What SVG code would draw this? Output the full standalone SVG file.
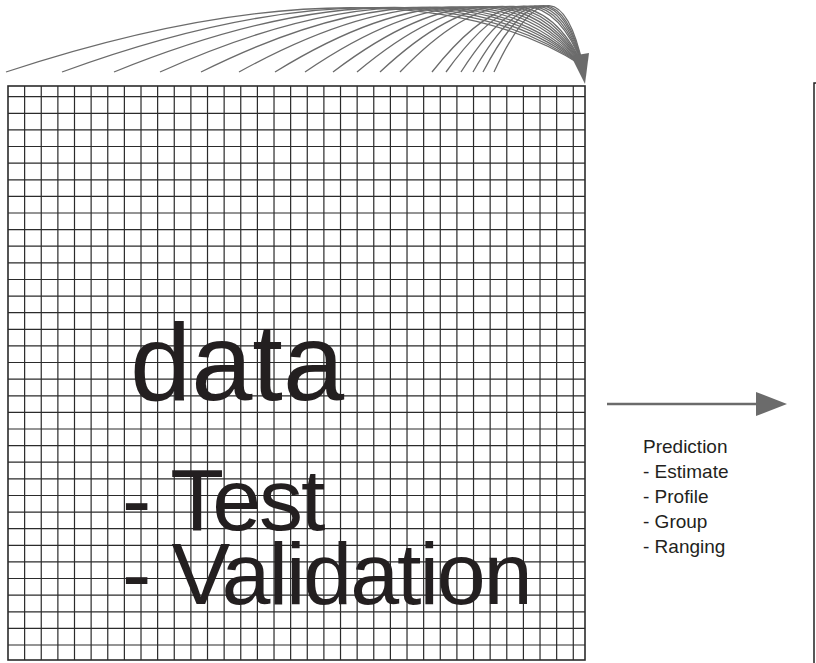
<svg xmlns="http://www.w3.org/2000/svg" width="816" height="663" viewBox="0 0 816 663">
<style>
.grid{fill:none;stroke:#2b2b2b;stroke-width:1.2}
.border{fill:none;stroke:#2b2b2b;stroke-width:1.6}
.arc{fill:none;stroke:#6b6b6b;stroke-width:1.3}
.big{font-family:"Liberation Sans",Arial,sans-serif;fill:#231f20}
.small{font-family:"Liberation Sans",Arial,sans-serif;font-size:19px;fill:#231f20}
</style>
<rect width="816" height="663" fill="#ffffff"/>
<g id="grid-node">
<path class="grid" d="M24.63 86V660M41.25 86V660M57.88 86V660M74.5 86V660M91.13 86V660M107.76 86V660M124.38 86V660M141.01 86V660M157.63 86V660M174.26 86V660M190.89 86V660M207.51 86V660M224.14 86V660M240.76 86V660M257.39 86V660M274.02 86V660M290.64 86V660M307.27 86V660M323.89 86V660M340.52 86V660M357.15 86V660M373.77 86V660M390.4 86V660M407.02 86V660M423.65 86V660M440.28 86V660M456.9 86V660M473.53 86V660M490.15 86V660M506.78 86V660M523.41 86V660M540.03 86V660M556.66 86V660M573.28 86V660
M8 96.7H585M8 113.3H585M8 129.9H585M8 146.5H585M8 163.2H585M8 179.8H585M8 196.4H585M8 213H585M8 229.6H585M8 246.2H585M8 262.9H585M8 279.5H585M8 296.1H585M8 312.7H585M8 329.3H585M8 345.9H585M8 362.5H585M8 379.2H585M8 395.8H585M8 412.4H585M8 429H585M8 445.6H585M8 462.2H585M8 478.8H585M8 495.5H585M8 512.1H585M8 528.7H585M8 545.3H585M8 561.9H585M8 578.5H585M8 595.2H585M8 611.8H585M8 628.4H585M8 645H585"/>
<rect class="border" x="8" y="86" width="577" height="574"/>
<text class="big" x="130" y="400" font-size="110">data</text>
<text class="big" x="122" y="530" font-size="88" letter-spacing="-2">- Test</text>
<text class="big" x="122" y="604" font-size="88" letter-spacing="-2.1">- Validation</text>
</g>
<g id="right-node">
<path d="M816 83H814V663" fill="none" stroke="#222" stroke-width="1.5"/>
</g>
<g id="prediction-label">
<text class="small" x="643" y="453">Prediction</text>
<text class="small" x="643" y="478">- Estimate</text>
<text class="small" x="643" y="503">- Profile</text>
<text class="small" x="643" y="528">- Group</text>
<text class="small" x="643" y="553">- Ranging</text>
</g>
<g id="connectors">
<path class="arc" d="M6 72C294.5 -23 479.1 -2 583 66"/>
<path class="arc" d="M62 72C322.5 -23 489.2 -2.4 583 66"/>
<path class="arc" d="M114 72C348.5 -23 498.6 -2.7 583 66"/>
<path class="arc" d="M160 72C371.5 -23 506.9 -3.1 583 66"/>
<path class="arc" d="M201 72C392 -23 514.2 -3.4 583 66"/>
<path class="arc" d="M239 72C411 -23 521.1 -3.8 583 66"/>
<path class="arc" d="M275 72C429 -23 527.6 -4.1 583 66"/>
<path class="arc" d="M305 72C444 -23 533 -4.5 583 66"/>
<path class="arc" d="M333 72C458 -23 538 -4.8 583 66"/>
<path class="arc" d="M357 72C470 -23 542.3 -5.2 583 66"/>
<path class="arc" d="M380 72C481.5 -23 546.5 -5.5 583 66"/>
<path class="arc" d="M400 72C491.5 -23 550.1 -5.9 583 66"/>
<path class="arc" d="M432 72C507.5 -23 555.8 -6.2 583 66"/>
<path class="arc" d="M446 72C514.5 -23 558.3 -6.6 583 66"/>
<path class="arc" d="M461 72C522 -23 561 -6.9 583 66"/>
<path class="arc" d="M473 72C528 -23 563.2 -7.3 583 66"/>
<path class="arc" d="M483 72C533 -23 565 -7.6 583 66"/>
<path class="arc" d="M494 72C538.5 -23 567 -8 583 66"/>
<polygon points="585,84 571,56 589,53" fill="#6b6b6b"/>
<line x1="607" y1="404" x2="760" y2="404" stroke="#6b6b6b" stroke-width="2.5"/>
<polygon points="756,392 787,404 756,416" fill="#6b6b6b"/>
</g>
</svg>
